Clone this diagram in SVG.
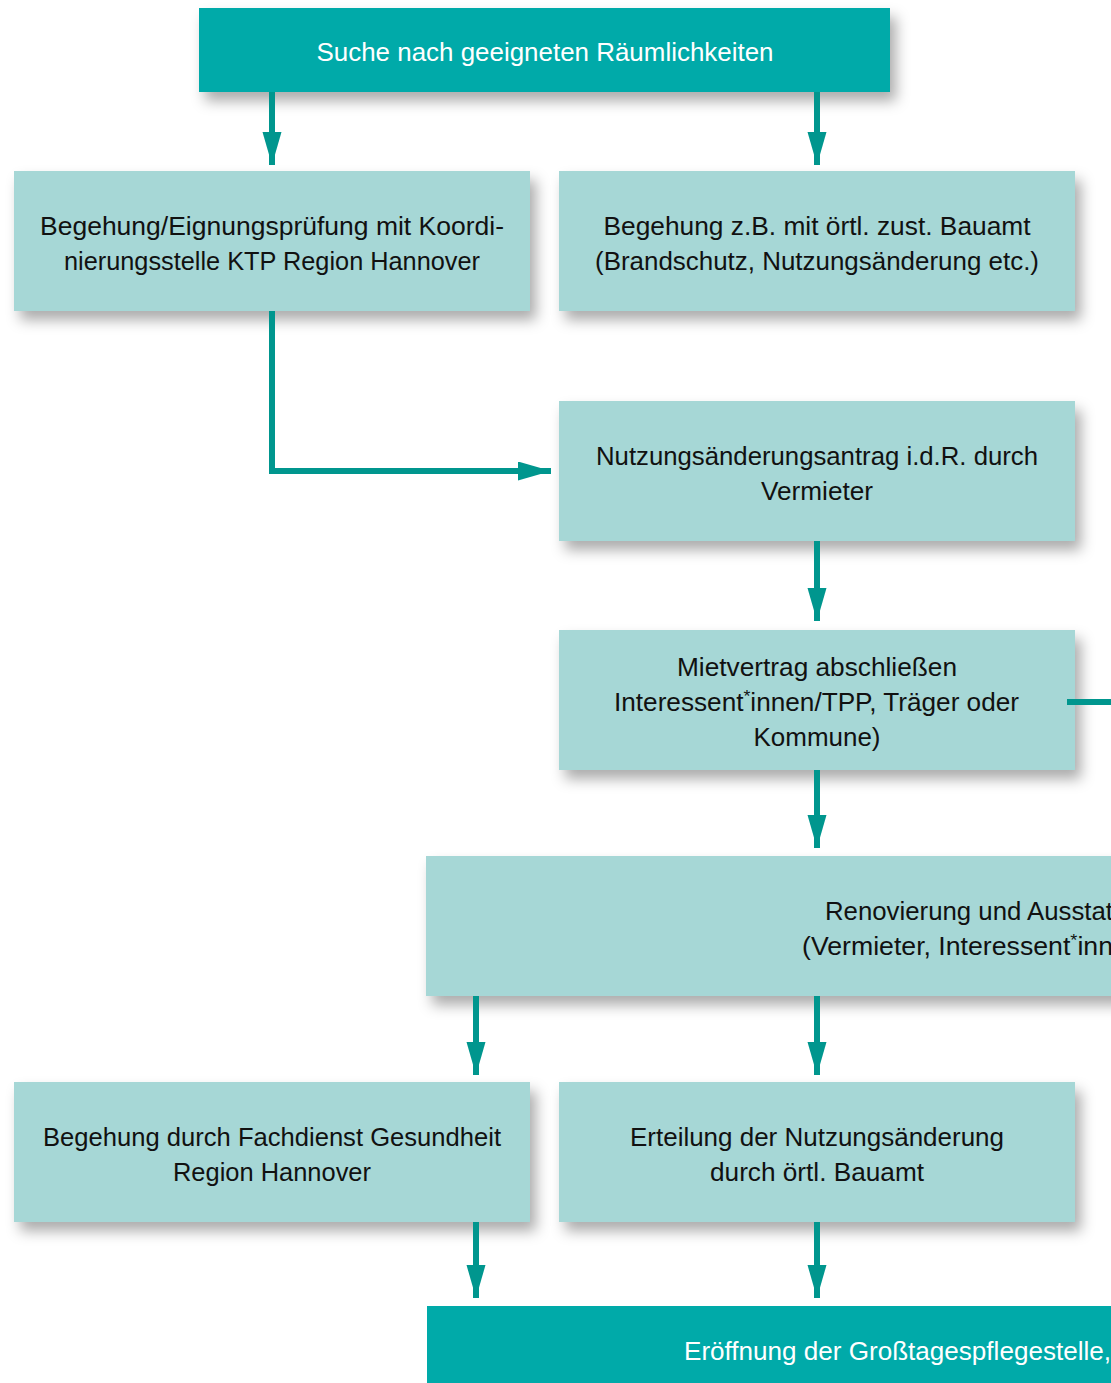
<svg xmlns="http://www.w3.org/2000/svg" width="1111" height="1383" viewBox="0 0 1111 1383">
  <style>
    .dark { fill: #00AAA9; }
    .light { fill: #A6D7D6; }
    .t { font-family: "Liberation Sans", Arial, sans-serif; font-size: 25px; fill: #111; }
    .tw { font-family: "Liberation Sans", Arial, sans-serif; font-size: 25px; fill: #fff; }
    .c { text-anchor: middle; }
    .con { fill: none; stroke: #00968E; stroke-width: 6; }
    .sup { font-size: 17px; }
  </style>
  <defs>
    <filter id="sh" x="-5%" y="-20%" width="115%" height="170%">
      <feDropShadow dx="6" dy="9" stdDeviation="7" flood-color="#000" flood-opacity="0.33"/>
    </filter>
    <marker id="ah" markerUnits="userSpaceOnUse" markerWidth="34" markerHeight="20" refX="33" refY="9.5" orient="auto">
      <path d="M0,0 L33,9.5 L0,19 Z" fill="#00968E"/>
    </marker>
  </defs>
  <rect width="1111" height="1383" fill="#fff"/>

  <g id="n1">
    <rect class="dark" x="199" y="8" width="691" height="84" filter="url(#sh)"/>
    <text class="tw c" x="545" y="61" textLength="457" lengthAdjust="spacingAndGlyphs">Suche nach geeigneten Räumlichkeiten</text>
  </g>

  <g id="n2">
    <rect class="light" x="14" y="171" width="516" height="140" filter="url(#sh)"/>
    <text class="t c" x="272" y="235" textLength="464" lengthAdjust="spacingAndGlyphs">Begehung/Eignungsprüfung mit Koordi-</text>
    <text class="t c" x="272" y="270" textLength="416" lengthAdjust="spacingAndGlyphs">nierungsstelle KTP Region Hannover</text>
  </g>

  <g id="n3">
    <rect class="light" x="559" y="171" width="516" height="140" filter="url(#sh)"/>
    <text class="t c" x="817" y="235" textLength="427" lengthAdjust="spacingAndGlyphs">Begehung z.B. mit örtl. zust. Bauamt</text>
    <text class="t c" x="817" y="270" textLength="444" lengthAdjust="spacingAndGlyphs">(Brandschutz, Nutzungsänderung etc.)</text>
  </g>

  <g id="n4">
    <rect class="light" x="559" y="401" width="516" height="140" filter="url(#sh)"/>
    <text class="t c" x="817" y="465" textLength="442" lengthAdjust="spacingAndGlyphs">Nutzungsänderungsantrag i.d.R. durch</text>
    <text class="t c" x="817" y="500" textLength="112" lengthAdjust="spacingAndGlyphs">Vermieter</text>
  </g>

  <g id="n5">
    <rect class="light" x="559" y="630" width="516" height="140" filter="url(#sh)"/>
    <text class="t c" x="817" y="676" textLength="280" lengthAdjust="spacingAndGlyphs">Mietvertrag abschließen</text>
    <text class="t" x="614" y="711" textLength="405" lengthAdjust="spacingAndGlyphs">Interessent<tspan class="sup" dy="-9">*</tspan><tspan dy="9">innen/TPP, Träger oder</tspan></text>
    <text class="t c" x="817" y="746" textLength="127" lengthAdjust="spacingAndGlyphs">Kommune)</text>
  </g>

  <g id="n6">
    <rect class="light" x="426" y="856" width="700" height="140" filter="url(#sh)"/>
    <text class="t" x="825" y="920" textLength="288" lengthAdjust="spacingAndGlyphs">Renovierung und Ausstat</text>
    <text class="t" x="802" y="955" textLength="311" lengthAdjust="spacingAndGlyphs">(Vermieter, Interessent<tspan class="sup" dy="-9">*</tspan><tspan dy="9">inn</tspan></text>
  </g>

  <g id="n7">
    <rect class="light" x="14" y="1082" width="516" height="140" filter="url(#sh)"/>
    <text class="t c" x="272" y="1146" textLength="458" lengthAdjust="spacingAndGlyphs">Begehung durch Fachdienst Gesundheit</text>
    <text class="t c" x="272" y="1181" textLength="198" lengthAdjust="spacingAndGlyphs">Region Hannover</text>
  </g>

  <g id="n8">
    <rect class="light" x="559" y="1082" width="516" height="140" filter="url(#sh)"/>
    <text class="t c" x="817" y="1146" textLength="374" lengthAdjust="spacingAndGlyphs">Erteilung der Nutzungsänderung</text>
    <text class="t c" x="817" y="1181" textLength="214" lengthAdjust="spacingAndGlyphs">durch örtl. Bauamt</text>
  </g>

  <g id="n9">
    <rect class="dark" x="427" y="1306" width="700" height="90"/>
    <text class="tw" x="684" y="1360" textLength="427" lengthAdjust="spacingAndGlyphs">Eröffnung der Großtagespflegestelle,</text>
  </g>

  <g id="connectors">
    <path class="con" d="M272,92 V165" marker-end="url(#ah)"/>
    <path class="con" d="M817,92 V165" marker-end="url(#ah)"/>
    <path class="con" d="M272,311 V471 H551" stroke-linejoin="miter" marker-end="url(#ah)"/>
    <path class="con" d="M817,541 V621" marker-end="url(#ah)"/>
    <path class="con" d="M1067,702 H1115"/>
    <path class="con" d="M817,770 V848" marker-end="url(#ah)"/>
    <path class="con" d="M476,996 V1075" marker-end="url(#ah)"/>
    <path class="con" d="M817,996 V1075" marker-end="url(#ah)"/>
    <path class="con" d="M476,1222 V1298" marker-end="url(#ah)"/>
    <path class="con" d="M817,1222 V1298" marker-end="url(#ah)"/>
  </g>
</svg>
